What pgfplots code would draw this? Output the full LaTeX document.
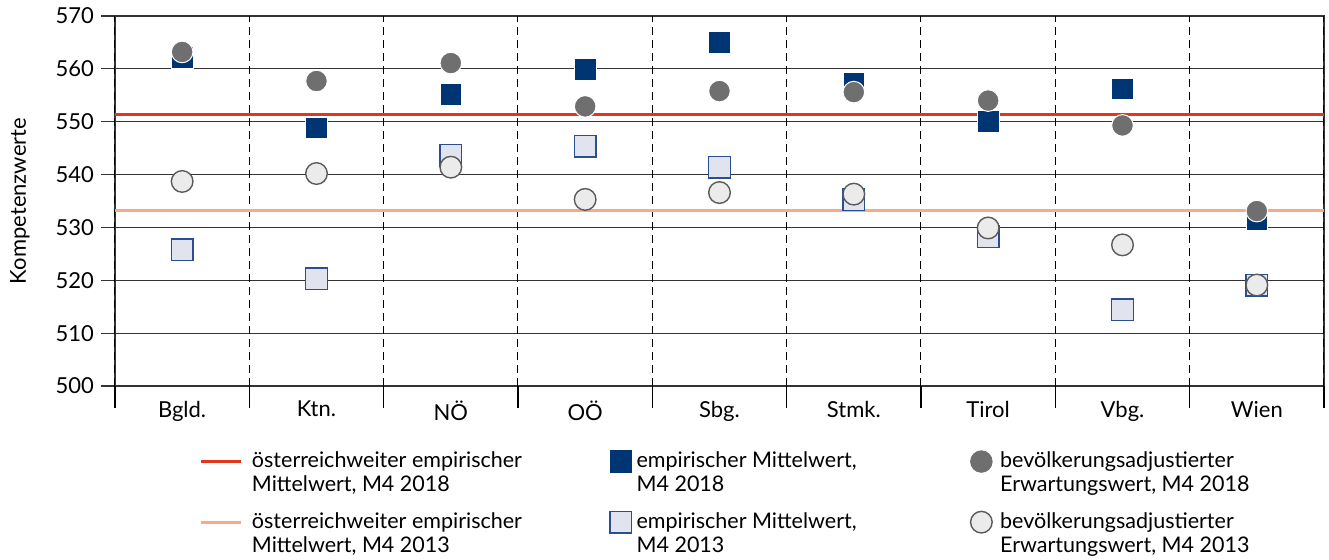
\documentclass[border=0pt]{standalone}
\usepackage{fontspec}
\setmainfont{Lato}
\usepackage{pgfplots}
\pgfplotsset{compat=1.18}
\definecolor{redline}{HTML}{E2361E}
\definecolor{orangeline}{HTML}{F7AA88}
\definecolor{darkblue}{HTML}{003574}
\definecolor{greyc}{HTML}{6F6F6F}
\definecolor{lightsq}{HTML}{E1E3EF}
\definecolor{lightsqb}{HTML}{2A4E8F}
\definecolor{lightc}{HTML}{EBEBEB}
\definecolor{lightcb}{HTML}{5A5A5A}
\pgfplotsset{linelegend/.style={legend image code/.code={\draw[##1] (0pt,0pt) -- (20pt,0pt);}}}
\begin{document}
\begin{tikzpicture}
\begin{axis}[
  scale only axis, width=604.5pt, height=185pt,
  xmin=-0.5, xmax=8.5, ymin=500, ymax=570,
  xtick=\empty,
  xtick pos=bottom, ytick pos=left,
  extra x ticks={-0.5,0.5,1.5,2.5,3.5,4.5,5.5,6.5,7.5,8.5},
  extra x tick labels={Bgld.,Ktn.,NÖ,OÖ,Sbg.,Stmk.,Tirol,Vbg.,Wien,{}},
  extra x tick style={major tick length=11pt, grid=major,
    tick style={black, line width=0.6pt},
    x tick label style={xshift=33.58pt, yshift=7pt, font=\fontsize{11}{13}\selectfont}},
  ytick={500,510,...,570},
  y tick label style={font=\fontsize{11}{13}\selectfont},
  /pgf/number format/assume math mode=true,
  /pgf/number format/1000 sep={},
  tick align=outside,
  major tick length=7pt,
  y tick style={black!80, line width=0.6pt},
  grid=major,
  x grid style={black, line width=0.5pt, dash pattern=on 4pt off 2.5pt},
  y grid style={black!80, line width=0.6pt},
  axis line style={black!80, line width=0.7pt},
  ylabel={Kompetenzwerte},
  ylabel style={at={(axis description cs:-0.0786,0.5)}, anchor=center, font=\fontsize{11}{13}\selectfont},
  legend columns=3,
  legend cell align=left,
  legend style={draw=none, fill=none, inner sep=0pt, outer sep=0pt,
    at={(axis description cs:0.0703,-0.175)}, anchor=north west,
    font=\fontsize{10.75}{12}\selectfont, column sep=0pt, row sep=19.5pt,
    nodes={inner sep=0pt}},
]
\addplot[forget plot, redline, line width=1.2pt] coordinates {(-0.5,551.4) (8.5,551.4)};
\addplot[forget plot, orangeline, line width=1.2pt] coordinates {(-0.5,533.2) (8.5,533.2)};
% empirischer Mittelwert M4 2018
\addplot[forget plot, only marks, mark=square*, mark size=5.4pt, draw=white, line width=0.4pt, fill=darkblue]
 coordinates {(0,562.2) (1,548.8) (2,555.2) (3,559.9) (4,565.0) (5,557.2) (6,550.1) (7,556.2) (8,531.4)};
% Erwartungswert M4 2018
\addplot[forget plot, only marks, mark=*, mark size=5.4pt, draw=white, line width=0.5pt, fill=greyc]
 coordinates {(0,563.2) (1,557.7) (2,561.1) (3,552.9) (4,555.8) (5,555.6) (6,554.0) (7,549.3) (8,533.1)};
% empirischer Mittelwert M4 2013
\addplot[forget plot, only marks, mark=square*, mark size=5.4pt, draw=lightsqb, line width=0.7pt, fill=lightsq]
 coordinates {(0,525.8) (1,520.3) (2,543.6) (3,545.4) (4,541.4) (5,535.3) (6,528.2) (7,514.4) (8,519.1)};
% Erwartungswert M4 2013
\addplot[forget plot, only marks, mark=*, mark size=5.4pt, draw=lightcb, line width=0.7pt, fill=lightc]
 coordinates {(0,538.7) (1,540.2) (2,541.4) (3,535.3) (4,536.6) (5,536.3) (6,529.9) (7,526.7) (8,519.1)};
% legend
\addlegendimage{redline, line width=1.5pt, linelegend}
\addlegendentry{\hspace*{4.5pt}\parbox[t]{179pt}{österreichweiter empirischer\\Mittelwert, M4 2018}}
\addlegendimage{only marks, mark=square*, mark size=5.4pt, draw=darkblue, fill=darkblue}
\addlegendentry{\hspace*{2.5pt}\parbox[t]{167pt}{empirischer Mittelwert,\\M4 2018}}
\addlegendimage{only marks, mark=*, mark size=5.4pt, draw=greyc, fill=greyc}
\addlegendentry{\hspace*{4pt}\parbox[t]{150pt}{bevölkerungsadjustierter\\Erwartungswert, M4 2018}}
\addlegendimage{orangeline, line width=1.5pt, linelegend}
\addlegendentry{\hspace*{4.5pt}\parbox[t]{179pt}{österreichweiter empirischer\\Mittelwert, M4 2013}}
\addlegendimage{only marks, mark=square*, mark size=5.4pt, draw=lightsqb, line width=0.7pt, fill=lightsq}
\addlegendentry{\hspace*{2.5pt}\parbox[t]{167pt}{empirischer Mittelwert,\\M4 2013}}
\addlegendimage{only marks, mark=*, mark size=5.4pt, draw=lightcb, line width=0.7pt, fill=lightc}
\addlegendentry{\hspace*{4pt}\parbox[t]{150pt}{bevölkerungsadjustierter\\Erwartungswert, M4 2013}}
\end{axis}
\pgfresetboundingbox
\path (-57.5pt,-86.5pt) rectangle (607pt,193pt);
\end{tikzpicture}
\end{document}
